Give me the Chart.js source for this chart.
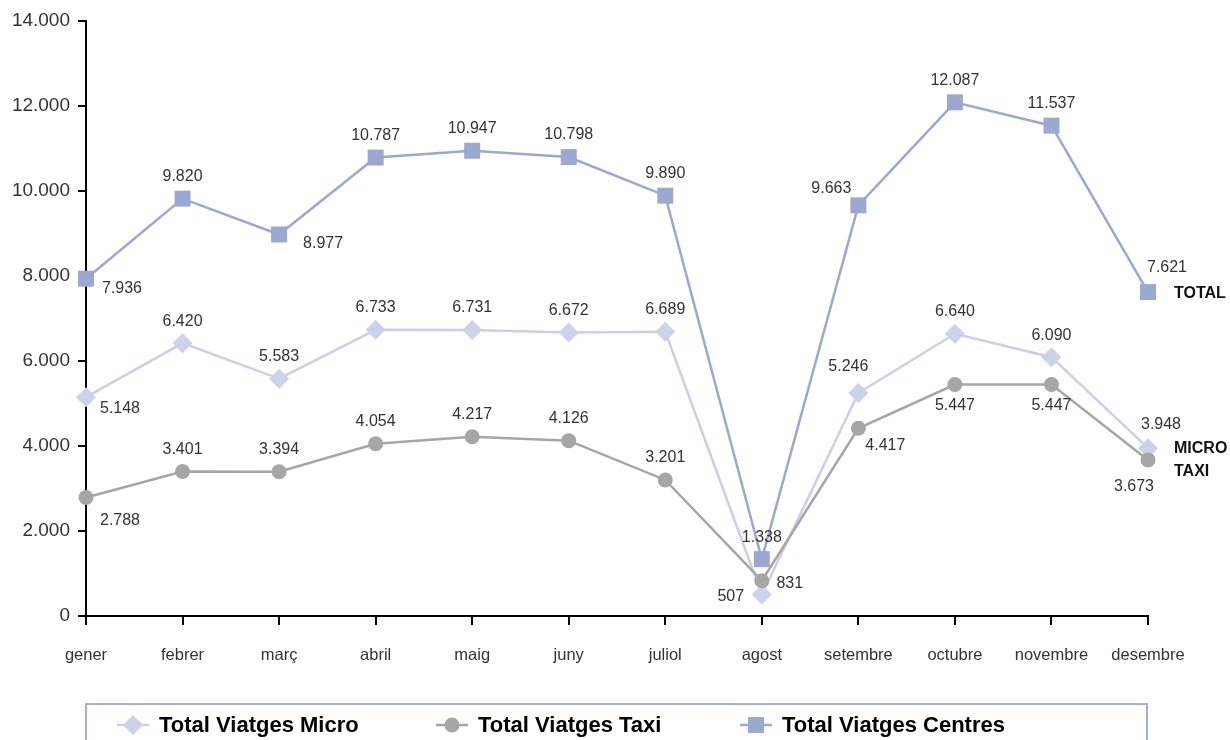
<!DOCTYPE html>
<html>
<head>
<meta charset="utf-8">
<script src="https://cdn.jsdelivr.net/npm/chart.js@4"></script>
<style>
  html, body { margin: 0; padding: 0; background: #fff; }
  #wrap { width: 1230px; height: 740px; position: relative; }
</style>
</head>
<body>
<div id="wrap"><canvas id="c" width="1230" height="740"></canvas></div>
<script>
// ---- data ----
const months = ['gener','febrer','març','abril','maig','juny','juliol','agost','setembre','octubre','novembre','desembre'];
const micro  = [5148, 6420, 5583, 6733, 6731, 6672, 6689, 507, 5246, 6640, 6090, 3948];
const taxi   = [2788, 3401, 3394, 4054, 4217, 4126, 3201, 831, 4417, 5447, 5447, 3673];
const total  = [7936, 9820, 8977, 10787, 10947, 10798, 9890, 1338, 9663, 12087, 11537, 7621];
const seriesNames = ['Total Viatges Micro', 'Total Viatges Taxi', 'Total Viatges Centres'];
const endTags = ['MICRO', 'TAXI', 'TOTAL'];
const yTicks = [0, 2000, 4000, 6000, 8000, 10000, 12000, 14000];

// label placement codes per point
const microPos = ['rbm','a','a','a','a','a','a','l','la','a','a','ra'];
const taxiPos  = ['rbt','a','a','a','a','a','a','r','rbs','b','b','lbb'];
const totalPos = ['rb','a','rbw','a','a','a','a','a','lat','a','a','rat'];
const posOffsets = {
  a: [0, -22], b: [0, 21], rb: [36, 10], rbm: [34, 11], rbt: [34, 23], rbw: [44, 9],
  lat: [-27, -17], rat: [19, -25],
  l: [-31, 2], la: [-10, -26], ra: [13, -24], r: [28, 3], rbs: [27, 17], lbb: [-14, 27]
};

const FONT = '"Liberation Sans", Arial, Helvetica, sans-serif';
const colMicro = '#C9D0E8', colTaxi = '#A6A6A6', colTotal = '#9BA9D0';

function fmt(v) {
  return String(v).replace(/\B(?=(\d{3})+(?!\d))/g, '.');
}

const extras = {
  id: 'extras',
  afterDatasetsDraw(chart) {
    const ctx = chart.ctx;
    const posSets = [microPos, taxiPos, totalPos];
    ctx.save();
    // data labels
    ctx.font = '16px ' + FONT;
    ctx.fillStyle = '#333333';
    ctx.textAlign = 'center';
    ctx.textBaseline = 'middle';
    chart.data.datasets.forEach((ds, di) => {
      const meta = chart.getDatasetMeta(di);
      meta.data.forEach((pt, i) => {
        const off = posOffsets[posSets[di][i]];
        ctx.fillText(fmt(ds.data[i]), pt.x + off[0], pt.y + off[1]);
      });
    });
    // end tags
    ctx.font = 'bold 16px ' + FONT;
    ctx.fillStyle = '#111';
    ctx.textAlign = 'left';
    const tagDy = [0, 12, 1];
    chart.data.datasets.forEach((ds, di) => {
      const meta = chart.getDatasetMeta(di);
      const last = meta.data[meta.data.length - 1];
      ctx.fillText(endTags[di], last.x + 26, last.y + tagDy[di]);
    });
    // legend box
    const area = chart.chartArea;
    ctx.strokeStyle = '#A3B0D6';
    ctx.lineWidth = 2;
    ctx.strokeRect(area.left, 704, area.right - area.left - 1, 60);
    const items = [
      { x: 117, ds: 0, r: 10 }, { x: 436, ds: 1, r: 7.5 }, { x: 740, ds: 2, r: 11.3 }
    ];
    items.forEach(it => {
      const ds = chart.data.datasets[it.ds];
      const y = 725;
      ctx.strokeStyle = ds.borderColor;
      ctx.lineWidth = 2.5;
      ctx.beginPath(); ctx.moveTo(it.x, y); ctx.lineTo(it.x + 32, y); ctx.stroke();
      ctx.fillStyle = ds.pointBackgroundColor;
      ctx.strokeStyle = ds.pointBackgroundColor;
      Chart.helpers.drawPoint(ctx, {
        pointStyle: ds.pointStyle, radius: it.r, borderWidth: 0,
      }, it.x + 16, y);
      ctx.fillStyle = '#000';
      ctx.font = 'bold 22px ' + FONT;
      ctx.textAlign = 'left';
      ctx.fillText(ds.label, it.x + 42, y + 1);
    });
    ctx.restore();
  }
};

new Chart(document.getElementById('c'), {
  type: 'line',
  data: {
    labels: months,
    datasets: [
      { label: seriesNames[0], data: micro, borderColor: colMicro, backgroundColor: colMicro,
        pointBackgroundColor: '#CBD2EA', pointBorderColor: '#CBD2EA', pointBorderWidth: 0,
        pointStyle: 'rectRot', pointRadius: 10, borderWidth: 2.5, order: 3, clip: false },
      { label: seriesNames[1], data: taxi, borderColor: colTaxi, backgroundColor: colTaxi,
        pointBackgroundColor: colTaxi, pointBorderColor: colTaxi, pointBorderWidth: 0,
        pointStyle: 'circle', pointRadius: 7.5, borderWidth: 2.5, order: 2, clip: false },
      { label: seriesNames[2], data: total, borderColor: colTotal, backgroundColor: colTotal,
        pointBackgroundColor: colTotal, pointBorderColor: colTotal, pointBorderWidth: 0,
        pointStyle: 'rect', pointRadius: 11.3, borderWidth: 2.5, order: 1, clip: false }
    ]
  },
  options: {
    responsive: false,
    animation: false,
    devicePixelRatio: 1,
    layout: { padding: { left: 0, right: 82, top: 21, bottom: 0 } },
    plugins: { legend: { display: false }, tooltip: { enabled: false } },
    elements: { line: { tension: 0 } },
    scales: {
      x: {
        offset: false,
        grid: { display: true, drawOnChartArea: false, drawTicks: true, tickLength: 9, color: '#000', lineWidth: 2 },
        border: { display: true, color: '#000', width: 2 },
        ticks: { autoSkip: false, maxRotation: 0, padding: 21, color: '#333', font: { family: FONT, size: 16.5 } },
        afterFit(s) { s.height = 124; }
      },
      y: {
        min: 0, max: 14000,
        afterBuildTicks(s) { s.ticks = yTicks.map(v => ({ value: v })); },
        grid: { display: true, drawOnChartArea: false, drawTicks: true, tickLength: 8, color: '#000', lineWidth: 2 },
        border: { display: true, color: '#000', width: 2 },
        ticks: { padding: 8, color: '#333', font: { family: FONT, size: 19 }, callback: v => fmt(v) },
        afterFit(s) { s.width = 86; }
      }
    }
  },
  plugins: [extras]
});
</script>
</body>
</html>
